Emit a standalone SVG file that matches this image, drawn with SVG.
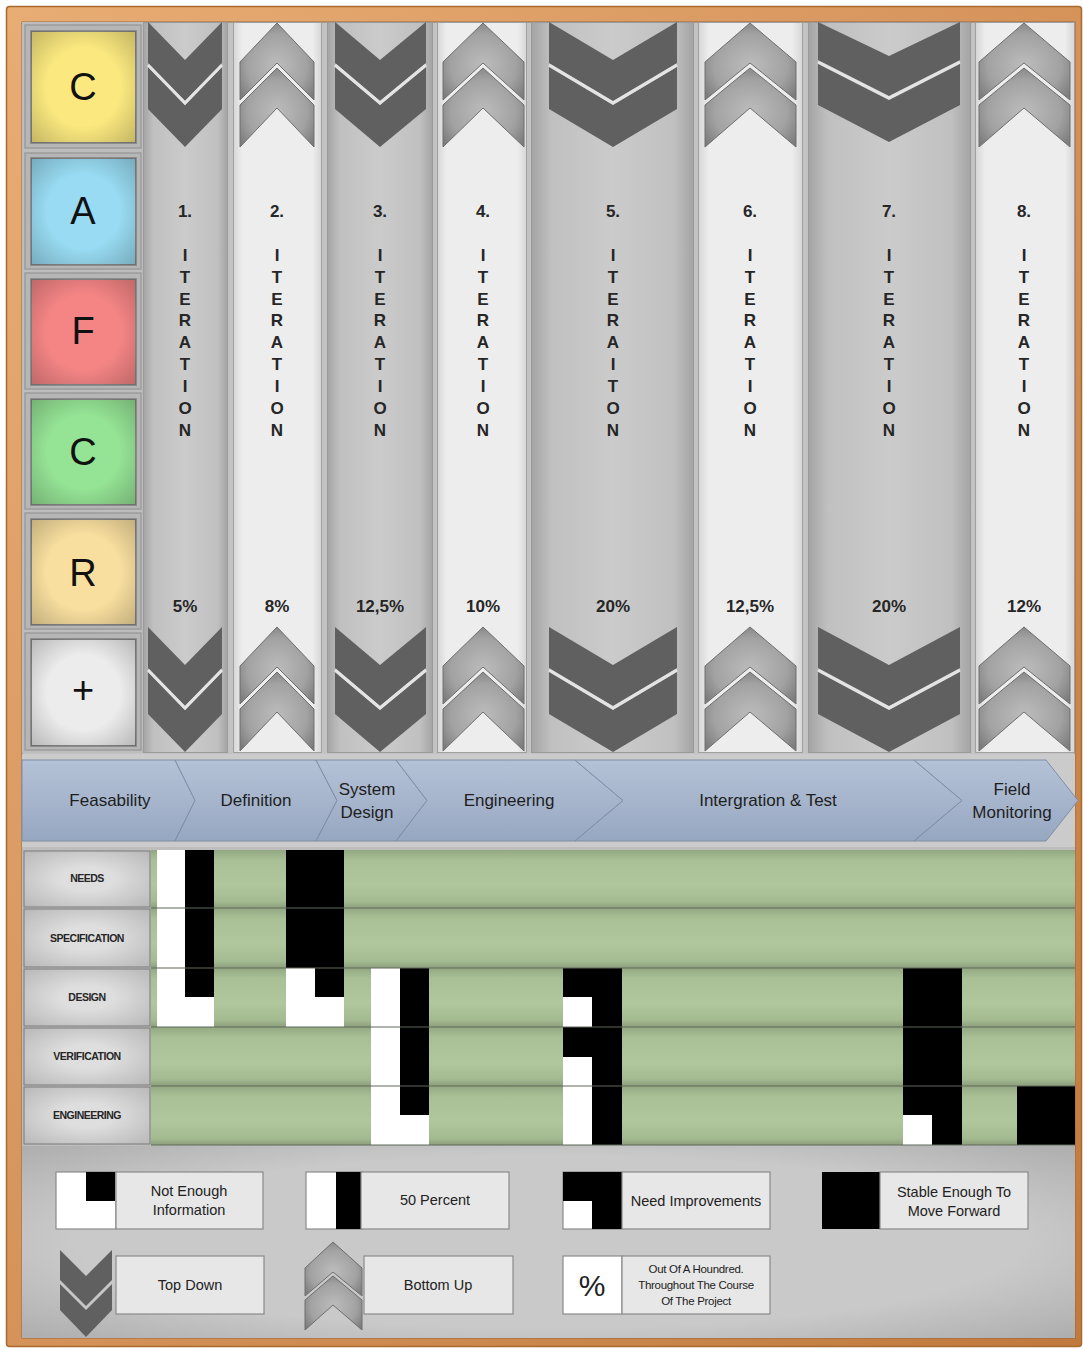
<svg xmlns="http://www.w3.org/2000/svg" width="1083" height="1349" viewBox="0 0 1083 1349">
<defs>
<linearGradient id="wood" x1="0" y1="0" x2="1" y2="1">
<stop offset="0" stop-color="#e8ad74"/>
<stop offset="0.5" stop-color="#d5935a"/>
<stop offset="1" stop-color="#c07a3e"/>
</linearGradient>
<linearGradient id="gcol" x1="0" y1="0" x2="1" y2="0">
<stop offset="0" stop-color="#a4a4a4"/>
<stop offset="0.12" stop-color="#c0c0c0"/>
<stop offset="0.5" stop-color="#cbcbcb"/>
<stop offset="0.88" stop-color="#c0c0c0"/>
<stop offset="1" stop-color="#a4a4a4"/>
</linearGradient>
<linearGradient id="lcol" x1="0" y1="0" x2="1" y2="0">
<stop offset="0" stop-color="#d6d6d6"/>
<stop offset="0.1" stop-color="#ededed"/>
<stop offset="0.9" stop-color="#ededed"/>
<stop offset="1" stop-color="#d6d6d6"/>
</linearGradient>
<radialGradient id="upg" cx="0.5" cy="0.55" r="0.62">
<stop offset="0" stop-color="#bcbcbc"/>
<stop offset="0.65" stop-color="#a2a2a2"/>
<stop offset="1" stop-color="#7c7c7c"/>
</radialGradient>
<radialGradient id="glow" cx="0.5" cy="0.5" r="0.7">
<stop offset="0.5" stop-color="#000" stop-opacity="0"/>
<stop offset="1" stop-color="#000" stop-opacity="0.22"/>
</radialGradient>
<linearGradient id="phase" x1="0" y1="0" x2="0" y2="1">
<stop offset="0" stop-color="#b4c2d7"/>
<stop offset="0.5" stop-color="#a6b5cc"/>
<stop offset="1" stop-color="#96a7c1"/>
</linearGradient>
<linearGradient id="green" x1="0" y1="0" x2="0" y2="1">
<stop offset="0" stop-color="#93a882"/>
<stop offset="0.18" stop-color="#a9c096"/>
<stop offset="0.6" stop-color="#b0c79e"/>
<stop offset="0.88" stop-color="#a4bb91"/>
<stop offset="1" stop-color="#8c9f7c"/>
</linearGradient>
<radialGradient id="lab" cx="0.5" cy="0.5" r="0.7">
<stop offset="0.3" stop-color="#dedede"/>
<stop offset="1" stop-color="#b8b8b8"/>
</radialGradient>
<radialGradient id="legbg" cx="0.5" cy="0.5" r="0.75">
<stop offset="0.6" stop-color="#c9c9c9"/>
<stop offset="1" stop-color="#a9a9a9"/>
</radialGradient>
</defs>
<style>
text{font-family:"Liberation Sans",Arial,sans-serif;fill:#1e1e1e}
.bl{font-size:38px;text-anchor:middle;fill:#111}
.cn{font-size:17px;font-weight:bold;text-anchor:middle;fill:#262626}
.ph{font-size:17px;text-anchor:middle;fill:#1e1e1e}
.rl{font-size:10.5px;font-weight:bold;text-anchor:middle;letter-spacing:-0.5px;fill:#262626}
.lg{font-size:14.5px;text-anchor:middle;fill:#222}
.ls{font-size:11.5px;text-anchor:middle;fill:#222;letter-spacing:-0.3px}
.dn{fill:#606060}
.up{fill:url(#upg);stroke:#6e6e6e;stroke-width:1}
.gap{fill:none;stroke:#e4e4e4;stroke-width:3}
.gc{fill:url(#gcol);stroke:#9a9a9a;stroke-width:1}
.lc{fill:url(#lcol);stroke:#a0a0a0;stroke-width:1}
.cell{fill:#b6b6b6;stroke:#9c9c9c;stroke-width:1.5}
.boxo{stroke:#8c8c8c;stroke-width:2}
.seg{fill:url(#phase);stroke:#7f8ea6;stroke-width:1}
.grn{fill:url(#green)}
.lab{fill:url(#lab);stroke:#7a7a7a;stroke-width:1}
.rowline{stroke:#5f6b58;stroke-width:1.2}
.tb{fill:#e7e7e7;stroke:#8a8a8a;stroke-width:1.2}
.wh{fill:#fff}
.bk{fill:#000}
</style>

<!-- frame -->
<rect x="6.5" y="6.5" width="1075" height="1340" rx="3" fill="url(#wood)" stroke="#a9692f" stroke-width="1.5"/>
<rect x="22" y="22" width="1053" height="1316" fill="#c3c3c3" stroke="#8e6a48" stroke-width="1"/>

<!-- left panel -->
<g id="left-panel">
<rect x="22" y="22" width="121" height="731" fill="#bdbdbd"/>
<rect class="cell" x="25" y="25" width="116" height="123"/>
<rect class="cell" x="25" y="153" width="116" height="116"/>
<rect class="cell" x="25" y="273" width="116" height="116"/>
<rect class="cell" x="25" y="393" width="116" height="116"/>
<rect class="cell" x="25" y="513" width="116" height="116"/>
<rect class="cell" x="25" y="633" width="116" height="117"/>
</g>
<g id="box-c1">
<rect class="boxo" x="31" y="31" width="105" height="112" fill="#fbe97f"/>
<rect x="31" y="31" width="105" height="112" fill="url(#glow)"/>
<text class="bl" x="83" y="100">C</text>
</g>
<g id="box-a">
<rect class="boxo" x="31" y="158" width="105" height="107" fill="#98dbf2"/>
<rect x="31" y="158" width="105" height="107" fill="url(#glow)"/>
<text class="bl" x="83" y="224">A</text>
</g>
<g id="box-f">
<rect class="boxo" x="31" y="279" width="105" height="106" fill="#f58585"/>
<rect x="31" y="279" width="105" height="106" fill="url(#glow)"/>
<text class="bl" x="83" y="344">F</text>
</g>
<g id="box-c2">
<rect class="boxo" x="31" y="399" width="105" height="106" fill="#95e395"/>
<rect x="31" y="399" width="105" height="106" fill="url(#glow)"/>
<text class="bl" x="83" y="465">C</text>
</g>
<g id="box-r">
<rect class="boxo" x="31" y="519" width="105" height="106" fill="#f9df9f"/>
<rect x="31" y="519" width="105" height="106" fill="url(#glow)"/>
<text class="bl" x="83" y="586">R</text>
</g>
<g id="box-plus">
<rect class="boxo" x="31" y="639" width="105" height="107" fill="#ececec"/>
<rect x="31" y="639" width="105" height="107" fill="url(#glow)"/>
<text class="bl" x="83" y="703">+</text>
</g>

<!-- iteration columns -->
<g id="iter1">
<rect class="gc" x="143.5" y="22.5" width="84" height="730"/>
<path class="dn" d="M148,22 L185,60 L222,22 L222,63 L185,101 L148,63Z M148,67 L185,105 L222,67 L222,109 L185,147 L148,109Z"/>
<path class="gap" d="M148,65 L185,103 L222,65"/>
<path class="dn" d="M148,627 L185,665 L222,627 L222,668 L185,706 L148,668Z M148,672 L185,710 L222,672 L222,714 L185,752 L148,714Z"/>
<path class="gap" d="M148,670 L185,708 L222,670"/>
<text class="cn" x="185" y="217">1.</text>
<text class="cn"><tspan x="185" y="261">I</tspan><tspan x="185" y="283">T</tspan><tspan x="185" y="305">E</tspan><tspan x="185" y="326">R</tspan><tspan x="185" y="348">A</tspan><tspan x="185" y="370">T</tspan><tspan x="185" y="392">I</tspan><tspan x="185" y="414">O</tspan><tspan x="185" y="436">N</tspan></text>
<text class="cn" x="185" y="612">5%</text>
</g>
<g id="iter2">
<rect class="lc" x="233.5" y="22.5" width="88" height="730"/>
<path class="up" d="M277,23 L314,62 L314,100 L277,63 L240,100 L240,62Z"/>
<path class="up" d="M277,68 L314,105 L314,147 L277,108 L240,147 L240,105Z"/>
<path class="up" d="M277,627 L314,666 L314,704 L277,667 L240,704 L240,666Z"/>
<path class="up" d="M277,672 L314,709 L314,751 L277,712 L240,751 L240,709Z"/>
<text class="cn" x="277" y="217">2.</text>
<text class="cn"><tspan x="277" y="261">I</tspan><tspan x="277" y="283">T</tspan><tspan x="277" y="305">E</tspan><tspan x="277" y="326">R</tspan><tspan x="277" y="348">A</tspan><tspan x="277" y="370">T</tspan><tspan x="277" y="392">I</tspan><tspan x="277" y="414">O</tspan><tspan x="277" y="436">N</tspan></text>
<text class="cn" x="277" y="612">8%</text>
</g>
<g id="iter3">
<rect class="gc" x="327.5" y="22.5" width="105" height="730"/>
<path class="dn" d="M335,22 L380,60 L426,22 L426,63 L380,101 L335,63Z M335,67 L380,105 L426,67 L426,109 L380,147 L335,109Z"/>
<path class="gap" d="M335,65 L380,103 L426,65"/>
<path class="dn" d="M335,627 L380,665 L426,627 L426,668 L380,706 L335,668Z M335,672 L380,710 L426,672 L426,714 L380,752 L335,714Z"/>
<path class="gap" d="M335,670 L380,708 L426,670"/>
<text class="cn" x="380" y="217">3.</text>
<text class="cn"><tspan x="380" y="261">I</tspan><tspan x="380" y="283">T</tspan><tspan x="380" y="305">E</tspan><tspan x="380" y="326">R</tspan><tspan x="380" y="348">A</tspan><tspan x="380" y="370">T</tspan><tspan x="380" y="392">I</tspan><tspan x="380" y="414">O</tspan><tspan x="380" y="436">N</tspan></text>
<text class="cn" x="380" y="612">12,5%</text>
</g>
<g id="iter4">
<rect class="lc" x="437.5" y="22.5" width="89" height="730"/>
<path class="up" d="M483,23 L524,62 L524,100 L483,63 L443,100 L443,62Z"/>
<path class="up" d="M483,68 L524,105 L524,147 L483,108 L443,147 L443,105Z"/>
<path class="up" d="M483,627 L524,666 L524,704 L483,667 L443,704 L443,666Z"/>
<path class="up" d="M483,672 L524,709 L524,751 L483,712 L443,751 L443,709Z"/>
<text class="cn" x="483" y="217">4.</text>
<text class="cn"><tspan x="483" y="261">I</tspan><tspan x="483" y="283">T</tspan><tspan x="483" y="305">E</tspan><tspan x="483" y="326">R</tspan><tspan x="483" y="348">A</tspan><tspan x="483" y="370">T</tspan><tspan x="483" y="392">I</tspan><tspan x="483" y="414">O</tspan><tspan x="483" y="436">N</tspan></text>
<text class="cn" x="483" y="612">10%</text>
</g>
<g id="iter5">
<rect class="gc" x="531.5" y="22.5" width="162" height="730"/>
<path class="dn" d="M549,22 L613,60 L677,22 L677,63 L613,101 L549,63Z M549,67 L613,105 L677,67 L677,109 L613,147 L549,109Z"/>
<path class="gap" d="M549,65 L613,103 L677,65"/>
<path class="dn" d="M549,627 L613,665 L677,627 L677,668 L613,706 L549,668Z M549,672 L613,710 L677,672 L677,714 L613,752 L549,714Z"/>
<path class="gap" d="M549,670 L613,708 L677,670"/>
<text class="cn" x="613" y="217">5.</text>
<text class="cn"><tspan x="613" y="261">I</tspan><tspan x="613" y="283">T</tspan><tspan x="613" y="305">E</tspan><tspan x="613" y="326">R</tspan><tspan x="613" y="348">A</tspan><tspan x="613" y="370">I</tspan><tspan x="613" y="392">T</tspan><tspan x="613" y="414">O</tspan><tspan x="613" y="436">N</tspan></text>
<text class="cn" x="613" y="612">20%</text>
</g>
<g id="iter6">
<rect class="lc" x="698.5" y="22.5" width="104" height="730"/>
<path class="up" d="M750,23 L796,62 L796,100 L750,63 L705,100 L705,62Z"/>
<path class="up" d="M750,68 L796,105 L796,147 L750,108 L705,147 L705,105Z"/>
<path class="up" d="M750,627 L796,666 L796,704 L750,667 L705,704 L705,666Z"/>
<path class="up" d="M750,672 L796,709 L796,751 L750,712 L705,751 L705,709Z"/>
<text class="cn" x="750" y="217">6.</text>
<text class="cn"><tspan x="750" y="261">I</tspan><tspan x="750" y="283">T</tspan><tspan x="750" y="305">E</tspan><tspan x="750" y="326">R</tspan><tspan x="750" y="348">A</tspan><tspan x="750" y="370">T</tspan><tspan x="750" y="392">I</tspan><tspan x="750" y="414">O</tspan><tspan x="750" y="436">N</tspan></text>
<text class="cn" x="750" y="612">12,5%</text>
</g>
<g id="iter7">
<rect class="gc" x="808.5" y="22.5" width="162" height="730"/>
<path class="dn" d="M818,22 L889,56 L960,22 L960,60 L889,96 L818,60Z M818,64 L889,100 L960,64 L960,105 L889,142 L818,105Z"/>
<path class="gap" d="M818,62 L889,98 L960,62"/>
<path class="dn" d="M818,627 L889,665 L960,627 L960,668 L889,706 L818,668Z M818,672 L889,710 L960,672 L960,714 L889,752 L818,714Z"/>
<path class="gap" d="M818,670 L889,708 L960,670"/>
<text class="cn" x="889" y="217">7.</text>
<text class="cn"><tspan x="889" y="261">I</tspan><tspan x="889" y="283">T</tspan><tspan x="889" y="305">E</tspan><tspan x="889" y="326">R</tspan><tspan x="889" y="348">A</tspan><tspan x="889" y="370">T</tspan><tspan x="889" y="392">I</tspan><tspan x="889" y="414">O</tspan><tspan x="889" y="436">N</tspan></text>
<text class="cn" x="889" y="612">20%</text>
</g>
<g id="iter8">
<rect class="lc" x="975.5" y="22.5" width="99" height="730"/>
<path class="up" d="M1024,23 L1070,62 L1070,100 L1024,63 L979,100 L979,62Z"/>
<path class="up" d="M1024,68 L1070,105 L1070,147 L1024,108 L979,147 L979,105Z"/>
<path class="up" d="M1024,627 L1070,666 L1070,704 L1024,667 L979,704 L979,666Z"/>
<path class="up" d="M1024,672 L1070,709 L1070,751 L1024,712 L979,751 L979,709Z"/>
<text class="cn" x="1024" y="217">8.</text>
<text class="cn"><tspan x="1024" y="261">I</tspan><tspan x="1024" y="283">T</tspan><tspan x="1024" y="305">E</tspan><tspan x="1024" y="326">R</tspan><tspan x="1024" y="348">A</tspan><tspan x="1024" y="370">T</tspan><tspan x="1024" y="392">I</tspan><tspan x="1024" y="414">O</tspan><tspan x="1024" y="436">N</tspan></text>
<text class="cn" x="1024" y="612">12%</text>
</g>

<!-- phase band -->
<rect x="22" y="754" width="1053" height="93" fill="#cbcbcb"/>
<g id="phase-feasability">
<path class="seg" d="M22,760 L175,760 L195,800.5 L175,841 L22,841Z"/>
<text class="ph" x="110" y="806">Feasability</text>
</g>
<g id="phase-definition">
<path class="seg" d="M175,760 L316,760 L337,800.5 L316,841 L175,841 L195,800.5Z"/>
<text class="ph" x="256" y="806">Definition</text>
</g>
<g id="phase-system-design">
<path class="seg" d="M316,760 L396,760 L427,800.5 L396,841 L316,841 L337,800.5Z"/>
<text class="ph" x="367" y="795">System</text>
<text class="ph" x="367" y="818">Design</text>
</g>
<g id="phase-engineering">
<path class="seg" d="M396,760 L575,760 L623,800.5 L575,841 L396,841 L427,800.5Z"/>
<text class="ph" x="509" y="806">Engineering</text>
</g>
<g id="phase-integration">
<path class="seg" d="M575,760 L914,760 L962,800.5 L914,841 L575,841 L623,800.5Z"/>
<text class="ph" x="768" y="806">Intergration &amp; Test</text>
</g>
<g id="phase-field">
<path class="seg" d="M914,760 L1046,760 L1078,800.5 L1046,841 L914,841 L962,800.5Z"/>
<text class="ph" x="1012" y="795">Field</text>
<text class="ph" x="1012" y="818">Monitoring</text>
</g>

<!-- status grid -->
<g id="grid">
<rect x="22" y="847" width="1053" height="300" fill="#bdbdbd"/>
<rect class="grn" x="151" y="850" width="924" height="58"/>
<rect class="grn" x="151" y="908" width="924" height="60"/>
<rect class="grn" x="151" y="968" width="924" height="59"/>
<rect class="grn" x="151" y="1027" width="924" height="59"/>
<rect class="grn" x="151" y="1086" width="924" height="59"/>
</g>
<g id="row-needs"><rect class="lab" x="24" y="851" width="126" height="56"/><text class="rl" x="87" y="882">NEEDS</text></g>
<g id="row-specification"><rect class="lab" x="24" y="909" width="126" height="58"/><text class="rl" x="87" y="942">SPECIFICATION</text></g>
<g id="row-design"><rect class="lab" x="24" y="969" width="126" height="57"/><text class="rl" x="87" y="1001">DESIGN</text></g>
<g id="row-verification"><rect class="lab" x="24" y="1028" width="126" height="57"/><text class="rl" x="87" y="1060">VERIFICATION</text></g>
<g id="row-engineering"><rect class="lab" x="24" y="1087" width="126" height="57"/><text class="rl" x="87" y="1119">ENGINEERING</text></g>

<g id="status-blocks">
<rect class="wh" x="157" y="850" width="28" height="177"/>
<rect class="bk" x="185" y="850" width="29" height="147"/>
<rect class="wh" x="185" y="997" width="29" height="30"/>
<rect class="bk" x="286" y="850" width="58" height="118"/>
<rect class="wh" x="286" y="968" width="29" height="59"/>
<rect class="bk" x="315" y="968" width="29" height="29"/>
<rect class="wh" x="315" y="997" width="29" height="30"/>
<rect class="wh" x="371" y="968" width="29" height="177"/>
<rect class="bk" x="400" y="968" width="29" height="147"/>
<rect class="wh" x="400" y="1115" width="29" height="30"/>
<rect class="bk" x="563" y="968" width="59" height="29"/>
<rect class="wh" x="563" y="997" width="29" height="30"/>
<rect class="bk" x="592" y="997" width="30" height="148"/>
<rect class="bk" x="563" y="1027" width="29" height="30"/>
<rect class="wh" x="563" y="1057" width="29" height="88"/>
<rect class="bk" x="903" y="968" width="59" height="147"/>
<rect class="wh" x="903" y="1115" width="29" height="30"/>
<rect class="bk" x="932" y="1115" width="30" height="30"/>
<rect class="bk" x="1017" y="1086" width="58" height="59"/>
</g>
<g id="row-lines">
<line class="rowline" x1="151" y1="908" x2="1075" y2="908"/>
<line class="rowline" x1="151" y1="968" x2="1075" y2="968"/>
<line class="rowline" x1="151" y1="1027" x2="1075" y2="1027"/>
<line class="rowline" x1="151" y1="1086" x2="1075" y2="1086"/>
<line class="rowline" x1="151" y1="1145" x2="1075" y2="1145"/>
</g>

<!-- legend -->
<rect x="22" y="1146" width="1053" height="192" fill="url(#legbg)"/>
<g id="legend-not-enough">
<rect class="wh" x="56" y="1172" width="60" height="57" stroke="#8a8a8a" stroke-width="1.2"/>
<rect class="bk" x="86" y="1172" width="29" height="29"/>
<rect class="tb" x="116" y="1172" width="147" height="57"/>
<text class="lg" x="189" y="1196">Not Enough</text>
<text class="lg" x="189" y="1215">Information</text>
</g>
<g id="legend-50">
<rect class="wh" x="306" y="1172" width="56" height="57" stroke="#8a8a8a" stroke-width="1.2"/>
<rect class="bk" x="336" y="1172" width="25" height="57"/>
<rect class="tb" x="361" y="1172" width="148" height="57"/>
<text class="lg" x="435" y="1205">50 Percent</text>
</g>
<g id="legend-need">
<rect class="wh" x="563" y="1172" width="59" height="57" stroke="#8a8a8a" stroke-width="1.2"/>
<rect class="bk" x="563" y="1172" width="59" height="29"/>
<rect class="bk" x="592" y="1201" width="30" height="28"/>
<rect class="tb" x="622" y="1172" width="148" height="57"/>
<text class="lg" x="696" y="1206">Need Improvements</text>
</g>
<g id="legend-stable">
<rect class="bk" x="822" y="1172" width="58" height="57"/>
<rect class="tb" x="880" y="1172" width="148" height="57"/>
<text class="lg" x="954" y="1197">Stable Enough To</text>
<text class="lg" x="954" y="1216">Move Forward</text>
</g>
<g id="legend-topdown">
<path class="dn" d="M60,1250 L86,1276 L112,1250 L112,1280 L86,1306 L60,1280Z M60,1284 L86,1310 L112,1284 L112,1310 L86,1337 L60,1310Z"/>
<path d="M60,1282 L86,1308 L112,1282" fill="none" stroke="#c8c8c8" stroke-width="2"/>
<rect class="tb" x="116" y="1256" width="148" height="58"/>
<text class="lg" x="190" y="1290">Top Down</text>
</g>
<g id="legend-bottomup">
<path class="up" d="M333,1242 L362,1268 L362,1296 L333,1272 L305,1296 L305,1268Z"/>
<path class="up" d="M333,1276 L362,1300 L362,1330 L333,1305 L305,1330 L305,1300Z"/>
<rect class="tb" x="364" y="1256" width="149" height="58"/>
<text class="lg" x="438" y="1290">Bottom Up</text>
</g>
<g id="legend-percent">
<rect class="wh" x="563" y="1256" width="59" height="58" stroke="#8a8a8a" stroke-width="1.2"/>
<text x="592" y="1296" style="font-size:30px;text-anchor:middle;fill:#222">%</text>
<rect class="tb" x="622" y="1256" width="148" height="58"/>
<text class="ls" x="696" y="1273">Out Of A Houndred.</text>
<text class="ls" x="696" y="1289">Throughout The Course</text>
<text class="ls" x="696" y="1305">Of The Project</text>
</g>
</svg>
